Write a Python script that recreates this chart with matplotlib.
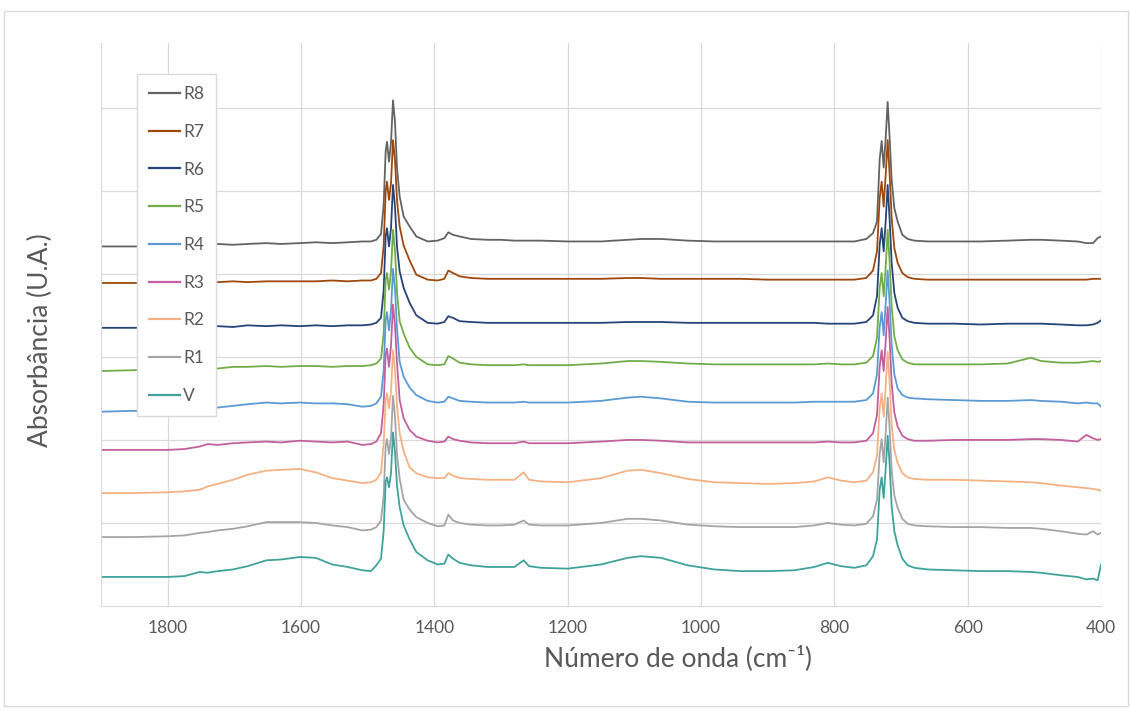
import matplotlib
matplotlib.use("Agg")
import matplotlib.pyplot as plt
from matplotlib.patches import Rectangle

plt.rcParams['font.family'] = ['Lato', 'DejaVu Sans']

# wavenumbers (cm-1), shared by all spectra
wn = [1900, 1850, 1800, 1775, 1752, 1740, 1725, 1702, 1680, 1652,
      1630, 1602, 1578, 1553, 1530, 1508, 1495, 1487, 1480, 1476,
      1473, 1471, 1468, 1465, 1462, 1459, 1456, 1452, 1446, 1437,
      1427, 1410, 1395, 1385, 1379, 1372, 1362, 1345, 1320, 1300,
      1280, 1266, 1258, 1240, 1200, 1150, 1110, 1090, 1060, 1020,
      980, 940, 900, 860, 830, 810, 790, 770, 752, 742,
      736, 732, 729, 726, 723, 720, 717, 714, 710, 705,
      698, 690, 680, 660, 620, 580, 540, 505, 490, 460,
      435, 422, 412, 405, 400]

labels = ["R8", "R7", "R6", "R5", "R4", "R3", "R2", "R1", "V"]
offsets = [4.33, 3.89, 3.35, 2.83, 2.34, 1.88, 1.36, 0.83, 0.35]
colors = ["#636363", "#9E480E", "#264478", "#70AD47", "#5B9BD5",
          "#C35F9F", "#F4B183", "#A5A5A5", "#3FA39B"]

r8 = [0, 0, 0.01, 0.01, 0.02, 0.02, 0.03, 0.02, 0.03, 0.04,
      0.03, 0.04, 0.05, 0.04, 0.05, 0.06, 0.06, 0.08, 0.15, 0.5,
      1.15, 1.26, 1.02, 1.25, 1.76, 1.5, 0.95, 0.6, 0.36, 0.24,
      0.12, 0.06, 0.07, 0.1, 0.17, 0.14, 0.12, 0.09, 0.08, 0.08,
      0.07, 0.07, 0.07, 0.07, 0.06, 0.06, 0.08, 0.09, 0.09, 0.07,
      0.06, 0.06, 0.06, 0.06, 0.06, 0.06, 0.06, 0.06, 0.09, 0.16,
      0.3, 1.05, 1.27, 0.95, 1.3, 1.74, 1.3, 0.8, 0.46, 0.3,
      0.14, 0.09, 0.07, 0.06, 0.06, 0.06, 0.07, 0.08, 0.08, 0.07,
      0.06, 0.04, 0.04, 0.1, 0.12]
r7 = [0, 0, 0.01, 0, 0.01, 0.01, 0.01, 0.02, 0.01, 0.02,
      0.02, 0.02, 0.02, 0.03, 0.02, 0.03, 0.03, 0.05, 0.12, 0.45,
      1.1, 1.22, 1.0, 1.2, 1.72, 1.48, 1.0, 0.68, 0.45, 0.27,
      0.1, 0.04, 0.03, 0.05, 0.15, 0.12, 0.08, 0.06, 0.05, 0.05,
      0.05, 0.05, 0.05, 0.05, 0.05, 0.05, 0.06, 0.06, 0.05, 0.05,
      0.05, 0.05, 0.04, 0.04, 0.04, 0.04, 0.04, 0.04, 0.06, 0.15,
      0.38, 1.02, 1.22, 0.92, 1.3, 1.72, 1.3, 0.78, 0.42, 0.24,
      0.12, 0.07, 0.05, 0.04, 0.04, 0.04, 0.04, 0.04, 0.04, 0.04,
      0.04, 0.04, 0.05, 0.05, 0.05]
r6 = [0, 0, 0.01, 0.01, 0.0, 0.01, 0.02, 0.01, 0.03, 0.02,
      0.03, 0.02, 0.03, 0.02, 0.03, 0.03, 0.04, 0.06, 0.12, 0.45,
      1.1, 1.2, 0.98, 1.2, 1.72, 1.46, 0.98, 0.68, 0.48, 0.3,
      0.15, 0.06, 0.05, 0.07, 0.14, 0.12, 0.08, 0.07, 0.06, 0.06,
      0.06, 0.06, 0.06, 0.06, 0.06, 0.06, 0.07, 0.07, 0.07, 0.06,
      0.06, 0.06, 0.06, 0.06, 0.06, 0.05, 0.05, 0.05, 0.07, 0.15,
      0.38, 1.0, 1.2, 0.92, 1.28, 1.72, 1.3, 0.78, 0.42, 0.24,
      0.12, 0.08, 0.06, 0.05, 0.05, 0.04, 0.05, 0.05, 0.05, 0.04,
      0.03, 0.03, 0.04, 0.06, 0.09]
r5 = [0, 0.01, 0.02, 0.02, 0.03, 0.04, 0.03, 0.05, 0.05, 0.06,
      0.05, 0.06, 0.06, 0.05, 0.06, 0.06, 0.07, 0.09, 0.15, 0.45,
      1.1, 1.18, 0.98, 1.2, 1.7, 1.45, 0.95, 0.6, 0.45, 0.28,
      0.17, 0.08, 0.07, 0.08, 0.18, 0.15, 0.1, 0.08, 0.07, 0.07,
      0.07, 0.08, 0.07, 0.07, 0.07, 0.09, 0.12, 0.12, 0.11, 0.09,
      0.08, 0.08, 0.08, 0.08, 0.08, 0.09, 0.08, 0.08, 0.1, 0.18,
      0.4, 1.0, 1.18, 0.9, 1.25, 1.7, 1.3, 0.78, 0.42, 0.25,
      0.14, 0.1, 0.08, 0.08, 0.08, 0.08, 0.09, 0.16, 0.12, 0.1,
      0.1, 0.11, 0.12, 0.11, 0.12]
r4 = [0, 0.01, 0.01, 0.03, 0.04, 0.05, 0.05, 0.07, 0.09, 0.11,
      0.1, 0.11, 0.1, 0.1, 0.09, 0.06, 0.07, 0.1, 0.18, 0.5,
      1.1, 1.2, 0.98, 1.22, 1.72, 1.48, 1.0, 0.6, 0.42, 0.29,
      0.2, 0.13, 0.11, 0.12, 0.18, 0.16, 0.13, 0.12, 0.11, 0.11,
      0.11, 0.12, 0.11, 0.11, 0.11, 0.13, 0.17, 0.18, 0.16, 0.12,
      0.11, 0.11, 0.11, 0.11, 0.12, 0.12, 0.12, 0.12, 0.14, 0.22,
      0.45, 1.02, 1.2, 0.92, 1.3, 1.7, 1.3, 0.8, 0.45, 0.28,
      0.2, 0.17, 0.16, 0.15, 0.14, 0.13, 0.13, 0.14, 0.13, 0.12,
      0.1, 0.11, 0.1, 0.1, 0.06]
r3 = [0, 0, 0, 0.01, 0.04, 0.07, 0.06, 0.08, 0.09, 0.1,
      0.09, 0.11, 0.1, 0.09, 0.1, 0.06, 0.07, 0.1, 0.2, 0.55,
      1.15, 1.22, 1.0, 1.25, 1.75, 1.5, 1.05, 0.6, 0.38, 0.24,
      0.16, 0.11, 0.09, 0.1, 0.16, 0.13, 0.11, 0.09, 0.08, 0.08,
      0.08, 0.1, 0.08, 0.08, 0.08, 0.1, 0.12, 0.12, 0.11, 0.09,
      0.09, 0.09, 0.09, 0.09, 0.09, 0.1, 0.09, 0.09, 0.11, 0.2,
      0.42, 1.0, 1.2, 0.95, 1.3, 1.72, 1.32, 0.8, 0.45, 0.28,
      0.17, 0.13, 0.11, 0.11, 0.12, 0.12, 0.12, 0.13, 0.13, 0.12,
      0.1, 0.18, 0.14, 0.12, 0.13]
r2 = [0, 0, 0.01, 0.02, 0.04, 0.08, 0.11, 0.16, 0.22, 0.27,
      0.28, 0.29, 0.25, 0.18, 0.15, 0.12, 0.13, 0.16, 0.25, 0.6,
      1.12, 1.2, 1.02, 1.22, 1.72, 1.48, 1.05, 0.72, 0.5, 0.31,
      0.24, 0.19, 0.18, 0.18, 0.24, 0.21, 0.18, 0.17, 0.16, 0.16,
      0.16, 0.25, 0.16, 0.14, 0.13, 0.18, 0.27, 0.28, 0.24, 0.17,
      0.13, 0.12, 0.11, 0.12, 0.14, 0.19, 0.15, 0.13, 0.15, 0.25,
      0.45, 1.02, 1.2, 0.92, 1.28, 1.7, 1.32, 0.82, 0.52, 0.36,
      0.24, 0.19, 0.17, 0.16, 0.16, 0.15, 0.14, 0.13, 0.12, 0.09,
      0.07, 0.06, 0.05, 0.04, 0.03]
r1 = [0, 0, 0.01, 0.02, 0.05, 0.06, 0.08, 0.1, 0.13, 0.18,
      0.18, 0.18, 0.17, 0.14, 0.12, 0.08, 0.09, 0.12, 0.2, 0.5,
      1.1, 1.18, 1.0, 1.2, 1.7, 1.45, 1.0, 0.7, 0.45, 0.33,
      0.24, 0.17, 0.13, 0.14, 0.27, 0.2, 0.17, 0.15, 0.14, 0.14,
      0.15, 0.2, 0.15, 0.14, 0.14, 0.17, 0.22, 0.22, 0.2, 0.15,
      0.13, 0.12, 0.12, 0.12, 0.14, 0.17, 0.15, 0.14, 0.16, 0.25,
      0.45, 1.0, 1.18, 0.9, 1.25, 1.68, 1.3, 0.8, 0.5, 0.35,
      0.22, 0.16, 0.14, 0.13, 0.12, 0.12, 0.11, 0.11, 0.1, 0.07,
      0.04, 0.03, 0.07, 0.03, 0.05]
v = [0, 0, 0, 0.01, 0.06, 0.05, 0.07, 0.09, 0.13, 0.2,
     0.21, 0.24, 0.23, 0.15, 0.12, 0.08, 0.07, 0.14, 0.22, 0.55,
     1.15, 1.2, 1.08, 1.25, 1.74, 1.5, 1.1, 0.84, 0.62, 0.45,
     0.3, 0.2, 0.15, 0.16, 0.27, 0.22, 0.17, 0.14, 0.12, 0.12,
     0.12, 0.2, 0.13, 0.11, 0.1, 0.15, 0.23, 0.25, 0.23, 0.14,
     0.09, 0.07, 0.07, 0.08, 0.12, 0.17, 0.13, 0.11, 0.14, 0.25,
     0.45, 1.05, 1.2, 0.95, 1.3, 1.7, 1.35, 0.85, 0.55, 0.38,
     0.22, 0.14, 0.11, 0.09, 0.08, 0.07, 0.07, 0.06, 0.05, 0.02,
     0.0, -0.03, -0.02, -0.04, 0.15]

spectra = [r8, r7, r6, r5, r4, r3, r2, r1, v]

fig = plt.figure(figsize=(11.3, 7.1), dpi=100)
ax = fig.add_axes([101 / 1130, 104 / 710, 1000 / 1130, 563 / 710])

# light border around the whole chart, like the Excel chart area
fig.patches.append(Rectangle((4 / 1130, 4 / 710), 1124 / 1130, 695 / 710,
                             transform=fig.transFigure, fill=False,
                             edgecolor="#D9D9D9", lw=1))

for spec, off, lab, col in zip(spectra, offsets, labels, colors):
    ax.plot(wn, [s + off for s in spec], color=col, lw=1.3, label=lab)

ax.set_xlim(1900, 400)
ax.set_ylim(0, 6.78)
ax.set_xticks(range(1800, 399, -200))
ax.set_yticks(range(1, 7))
ax.set_yticklabels([])
ax.tick_params(length=0, labelsize=12.5, colors="#595959", pad=10)
ax.grid(True, color="#D9D9D9", lw=0.9)
ax.set_axisbelow(True)
for side in ["top", "right"]:
    ax.spines[side].set_visible(False)
for side in ["left", "bottom"]:
    ax.spines[side].set_color("#D9D9D9")

fig.text(678 / 1130, 1 - 658 / 710, "Número de onda (cm⁻¹)",
         ha="center", va="center", fontsize=19, color="#595959")
fig.text(40 / 1130, 1 - 340 / 710, "Absorbância (U.A.)", rotation=90,
         ha="center", va="center", fontsize=19, color="#595959")

leg = ax.legend(loc="upper left", bbox_to_anchor=(137 / 1130, 1 - 74 / 710),
                bbox_transform=fig.transFigure, borderaxespad=0,
                fontsize=12.5, labelspacing=1.25, handlelength=1.8,
                handletextpad=0.15, borderpad=0.7, fancybox=False,
                framealpha=1, edgecolor="#D9D9D9")
for t in leg.get_texts():
    t.set_color("#595959")
for line in leg.get_lines():
    line.set_linewidth(1.6)

fig.savefig("out.png", dpi=100)
